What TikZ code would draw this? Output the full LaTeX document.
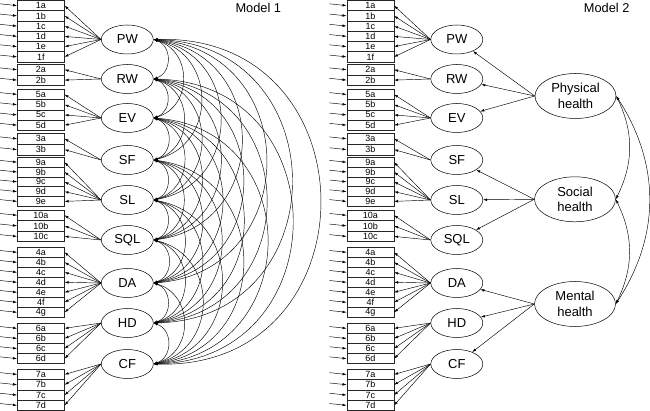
\documentclass[tikz,border=0pt]{standalone}
\usepackage{fontspec}
\setmainfont{Liberation Sans}
\usepackage{tikz}
\usetikzlibrary{arrows.meta}
\usetikzlibrary{shapes.geometric}
\usetikzlibrary{calc}

\tikzset{
    itembox/.style={draw=black!85, line width=0.5pt, minimum width=47pt, inner sep=0pt, font=\fontsize{9}{9}\selectfont},
    factor/.style={draw, ellipse, line width=0.5pt, minimum width=52pt, minimum height=29pt, inner sep=0pt, font=\fontsize{13}{13}\selectfont},
    bigfactor/.style={draw, ellipse, line width=0.5pt, minimum width=81pt, minimum height=45pt, inner sep=0pt, align=center, font=\fontsize{13}{15.5}\selectfont},
    arr/.style={line width=0.45pt, -{Latex[length=4pt,width=2.6pt]}},
    cov/.style={line width=0.45pt, {Latex[length=4pt,width=2.6pt]}-{Latex[length=4pt,width=2.6pt]}}
}

\begin{document}
\begin{tikzpicture}[x=1pt,y=-1pt]
    \useasboundingbox (0,0) rectangle (650,411);

    % both models share the measurement part
    \foreach \pre/\sh in {a/0,b/329.5}{
        \foreach \fac/\fy/\ytop/\ybot/\n/\items in {
            PW/39.5/0.5/62/6/{1a,1b,1c,1d,1e,1f},
            RW/79/64.5/85.3/2/{2a,2b},
            EV/118/89.3/130.3/4/{5a,5b,5c,5d},
            SF/160/133.3/155/2/{3a,3b},
            SL/200/157.3/206.3/5/{9a,9b,9c,9d,9e},
            SQL/240/210/241.7/3/{10a,10b,10c},
            DA/283/247.3/317.3/7/{4a,4b,4c,4d,4e,4f,4g},
            HD/323/323.3/363.7/4/{6a,6b,6c,6d},
            CF/364/369.3/410.5/4/{7a,7b,7c,7d}}{
            \node[factor] (\pre-\fac) at (127.3+\sh,\fy) {\fac};
            \pgfmathsetmacro\rowh{(\ybot-\ytop)/\n}
            \foreach \itm [count=\k] in \items {
                \pgfmathsetmacro\iy{\ytop+(\k-0.5)*\rowh}
                \node[itembox, minimum height=\rowh pt] (\pre-\itm) at (40.8+\sh,\iy) {\itm};
                \coordinate (\pre-e\itm) at (\sh,\iy-1.8);
                \draw[arr] (\pre-e\itm) -- (\pre-\itm.west);
                \draw[arr] (\pre-\fac.west) -- (\pre-\itm.east);
            }
        }
    }

    % Model 1: all factors correlated
    \foreach \f [count=\i] in {PW,RW,EV,SF,SL,SQL,DA,HD,CF}{
        \foreach \g [count=\j] in {PW,RW,EV,SF,SL,SQL,DA,HD,CF}{
            \ifnum\j>\i
                \pgfmathsetmacro\ang{70.7+3*(\j-\i-1)}
                \pgfmathsetmacro\loo{(2/3)*tan(\ang/2)/sin(\ang)/0.3915}
                \draw[cov] (a-\f.east) to[bend left=\ang, looseness=\loo] (a-\g.east);
            \fi
        }
    }

    % Model 2: second order factors
    \node[bigfactor] (phys) at (575.5,96) {Physical\\health};
    \node[bigfactor] (soc) at (575,199.3) {Social\\health};
    \node[bigfactor] (ment) at (575,304) {Mental\\health};

    \foreach \f in {PW,RW,EV} \draw[arr] (phys.west) -- (b-\f);
    \foreach \f in {SF,SL,SQL} \draw[arr] (soc.west) -- (b-\f);
    \foreach \f in {DA,HD,CF} \draw[arr] (ment.west) -- (b-\f);

    \draw[cov] (phys.east) to[bend left=26] (soc.east);
    \draw[cov] (soc.east) to[bend left=26] (ment.east);
    \draw[cov] (phys.east) to[bend left=33] (ment.east);

    \node[font=\fontsize{12.8}{12.8}\selectfont] (mod1) at (258.3,8.3) {Model 1};
    \node[font=\fontsize{12.8}{12.8}\selectfont] (mod2) at (606.7,8.3) {Model 2};
\end{tikzpicture}
\end{document}
